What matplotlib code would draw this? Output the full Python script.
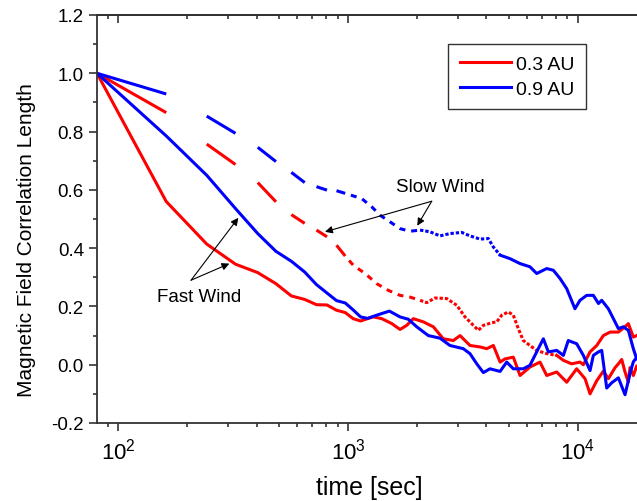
import numpy as np
import matplotlib
matplotlib.use("Agg")
import matplotlib.pyplot as plt
from matplotlib.ticker import LogLocator, MultipleLocator, FormatStrFormatter, NullFormatter
from matplotlib import font_manager

narrow = "Liberation Sans Narrow"
try:
    font_manager.findfont(narrow, fallback_to_default=False)
except Exception:
    narrow = "Liberation Sans"

plt.rcParams.update({
    "font.family": ["Liberation Sans", "DejaVu Sans"],
    "mathtext.fontset": "custom",
    "mathtext.rm": narrow,
    "mathtext.it": narrow + ":italic",
    "mathtext.bf": narrow + ":bold",
    "axes.unicode_minus": False,
    "lines.scale_dashes": False,
})

# ---------------- data (time lag [s], correlation) ----------------
# Fast wind, 0.3 AU
t_fast_03 = [81, 162, 243, 324, 405, 486, 567, 648, 729, 810, 891, 972, 1053, 1134, 1215,
             1289, 1402, 1550, 1683, 1799, 1923, 2126, 2350, 2595, 2871, 3070, 3390, 3752,
             4008, 4284, 4583, 4819, 5232, 5597, 6180, 6834, 7310, 8081, 8930, 9868, 10730,
             11280, 12060, 12890, 13550, 14490, 14980, 15490, 16010, 16550, 16830, 17400, 17990]
v_fast_03 = [1.0, 0.56, 0.414, 0.345, 0.316, 0.278, 0.236, 0.224, 0.206, 0.205, 0.187, 0.179, 0.158, 0.150, 0.158,
             0.164, 0.158, 0.141, 0.121, 0.135, 0.158, 0.147, 0.130, 0.089, 0.083, 0.100, 0.066, 0.061,
             0.055, 0.066, 0.009, 0.020, 0.026, -0.037, -0.008, 0.009, -0.037, -0.025, -0.060, -0.014, -0.048,
             -0.100, -0.055, -0.022, -0.048, -0.010, 0.003, 0.018, -0.025, -0.060, -0.010, -0.037, -0.005]

# Fast wind, 0.9 AU
t_fast_09 = [81, 162, 243, 324, 405, 486, 567, 648, 729, 810, 891, 972, 1053, 1134, 1215,
             1333, 1513, 1683, 1829, 1990, 2234, 2512, 2775, 3171, 3390, 3629, 3876, 4142,
             4583, 4897, 5232, 5781, 6180, 6720, 7068, 7430, 8081, 8636, 9071, 9868, 10550,
             11280, 11660, 12270, 12680, 13330, 14010, 14980, 16010, 16830, 17400, 17990]
v_fast_09 = [1.0, 0.785, 0.65, 0.536, 0.45, 0.389, 0.355, 0.318, 0.275, 0.246, 0.220, 0.212, 0.188, 0.164, 0.159,
             0.170, 0.184, 0.164, 0.156, 0.130, 0.100, 0.091, 0.066, 0.055, 0.038, 0.003, -0.027, -0.014,
             -0.023, 0.009, -0.014, -0.014, -0.002, 0.055, 0.089, 0.044, 0.049, 0.032, 0.083, 0.072, 0.032,
             -0.020, 0.032, 0.044, 0.049, -0.080, -0.062, -0.045, -0.103, -0.030, 0.010, 0.025]

# Slow wind, 0.3 AU
t_slow_03 = [81, 162, 243, 324, 405, 486, 567, 648, 729, 810, 891, 972,
             1055, 1186, 1333, 1498, 1683, 1860, 2057, 2199, 2389, 2685, 2970, 3226, 3507,
             3690, 3876, 4214, 4433, 4660, 4980, 5232, 5499, 5781, 6180, 6612, 7310, 8081,
             8636, 9382, 10200, 10550, 11280, 11660, 12060, 12890, 13780, 14980, 16010,
             16550, 17400, 17990]
v_slow_03 = [1.0, 0.865, 0.757, 0.687, 0.625, 0.559, 0.515, 0.485, 0.462, 0.439, 0.410, 0.373,
             0.341, 0.313, 0.278, 0.255, 0.238, 0.232, 0.221, 0.213, 0.229, 0.227, 0.204, 0.164, 0.135,
             0.118, 0.135, 0.144, 0.147, 0.170, 0.181, 0.170, 0.124, 0.083, 0.066, 0.049, 0.038, 0.032,
             0.015, 0.003, 0.009, 0.000, 0.044, 0.055, 0.066, 0.100, 0.112, 0.112, 0.130,
             0.141, 0.095, 0.100]

# Slow wind, 0.9 AU
t_slow_09 = [81, 162, 243, 324, 405, 486, 567, 648, 729, 810, 891, 972,
             1147, 1267, 1378, 1524, 1683, 1860, 2057, 2273, 2512, 2775, 3121, 3390, 3752,
             4074, 4284, 4583, 5058, 5597, 6180, 6612, 7310, 7812, 8350, 8930, 9697, 10200,
             10910, 11660, 12270, 12680, 13550, 14250, 14980, 15740, 16550, 17400, 17990]
v_slow_09 = [1.0, 0.929, 0.853, 0.794, 0.746, 0.697, 0.660, 0.625, 0.611, 0.599, 0.597, 0.588,
             0.570, 0.542, 0.513, 0.490, 0.467, 0.458, 0.462, 0.456, 0.442, 0.450, 0.454, 0.442, 0.431,
             0.433, 0.404, 0.376, 0.364, 0.347, 0.336, 0.313, 0.330, 0.324, 0.296, 0.261, 0.192, 0.221,
             0.238, 0.238, 0.210, 0.221, 0.192, 0.158, 0.124, 0.130, 0.118, 0.055, 0.020]

legend_labels = ["0.3 AU", "0.9 AU"]
RED = "#ff0000"
BLUE = "#0000ff"
AX_COL = "#333333"
LW = 2.2

fig = plt.figure(figsize=(6.37, 5.02), dpi=100)
ax = fig.add_axes([97 / 637, 78 / 502, 540 / 637, 408 / 502])
ax.set_xscale("log")
ax.set_xlim(81, 18050)
ax.set_ylim(-0.2, 1.2)


def draw_slow(t, v, color, n_alt=12, t_mid=1900, t_solid=4400):
    t = np.asarray(t, float)
    v = np.asarray(v, float)
    # first lags: every other segment drawn (dash pattern restarting at each point)
    ta, va = [], []
    for i in range(0, n_alt - 1, 2):
        ta += [t[i], t[i + 1], np.nan]
        va += [v[i], v[i + 1], np.nan]
    ax.plot(ta, va, color=color, lw=LW, solid_capstyle="butt")
    i0 = n_alt - 1
    i1 = int(np.searchsorted(t, t_mid))
    i2 = int(np.searchsorted(t, t_solid))
    ax.plot(t[i0:i1 + 1], v[i0:i1 + 1], color=color, lw=LW,
            linestyle=(4.3, (4.3, 4.3)))
    ax.plot(t[i1:i2 + 1], v[i1:i2 + 1], color=color, lw=LW,
            linestyle=(0, (2.4, 1.4)))
    ax.plot(t[i2:], v[i2:], color=color, lw=LW, solid_joinstyle="round")


draw_slow(t_slow_03, v_slow_03, RED, t_solid=7400)
draw_slow(t_slow_09, v_slow_09, BLUE, t_solid=4400)
l1, = ax.plot(t_fast_03, v_fast_03, color=RED, lw=LW, solid_joinstyle="round")
l2, = ax.plot(t_fast_09, v_fast_09, color=BLUE, lw=LW, solid_joinstyle="round")

# axes styling
for s in ["left", "bottom", "top"]:
    ax.spines[s].set_color(AX_COL)
    ax.spines[s].set_linewidth(1.3)
ax.spines["right"].set_visible(False)

ax.xaxis.set_major_locator(LogLocator(base=10))
ax.xaxis.set_minor_locator(LogLocator(base=10, subs=np.arange(2, 10)))
ax.xaxis.set_minor_formatter(NullFormatter())
ax.yaxis.set_major_locator(MultipleLocator(0.2))
ax.yaxis.set_minor_locator(MultipleLocator(0.1))
ax.yaxis.set_major_formatter(FormatStrFormatter("%.1f"))
ax.tick_params(axis="both", which="major", direction="out", length=5.8, width=1.2,
               color=AX_COL, labelsize=13.5, pad=3.6)
ax.tick_params(axis="both", which="minor", direction="out", length=2.9, width=1.2, color=AX_COL)
ax.tick_params(axis="x", which="major", labelsize=16, pad=4.5)
ax.tick_params(right=False, top=False)

sec = ax.secondary_xaxis("top")
sec.xaxis.set_major_locator(LogLocator(base=10))
sec.xaxis.set_minor_locator(LogLocator(base=10, subs=np.arange(2, 10)))
sec.tick_params(axis="x", which="major", direction="in", length=5.8, width=1.2, color=AX_COL,
                labeltop=False)
sec.tick_params(axis="x", which="minor", direction="in", length=2.9, width=1.2, color=AX_COL)
sec.xaxis.set_minor_formatter(NullFormatter())
sec.spines["top"].set_color(AX_COL)
sec.spines["top"].set_linewidth(1.3)

ax.set_xlabel("time [sec]", fontsize=18)
ax.xaxis.set_label_coords(0.505, -0.128)
ax.set_ylabel("Magnetic Field Correlation Length", fontsize=15)
ax.yaxis.set_label_coords(-0.113, 0.451)

leg = ax.legend([l1, l2], legend_labels, loc="upper left", bbox_to_anchor=(0.65, 0.929),
                fontsize=14, frameon=True, fancybox=False, framealpha=1,
                edgecolor=AX_COL, handlelength=2.63, handletextpad=0.27,
                labelspacing=0.35, borderpad=0.6, borderaxespad=0)
leg.get_frame().set_linewidth(1.0)

# annotations
arrow_kw = dict(arrowstyle="-|>", color="black", lw=0.8, mutation_scale=11,
                shrinkA=0, shrinkB=0)
ax.text(2512, 0.595, "Slow Wind", fontsize=13.5, ha="center", va="baseline")
ax.annotate("", xy=(794, 0.456), xytext=(2312, 0.561), arrowprops=arrow_kw)
ax.annotate("", xy=(2000, 0.477), xytext=(2312, 0.561), arrowprops=arrow_kw)
ax.text(224.5, 0.219, "Fast Wind", fontsize=13.5, ha="center", va="baseline")
ax.annotate("", xy=(333.4, 0.504), xytext=(207.7, 0.29), arrowprops=arrow_kw)
ax.annotate("", xy=(304.8, 0.347), xytext=(207.7, 0.29), arrowprops=arrow_kw)

fig.savefig("out.png", dpi=100)
